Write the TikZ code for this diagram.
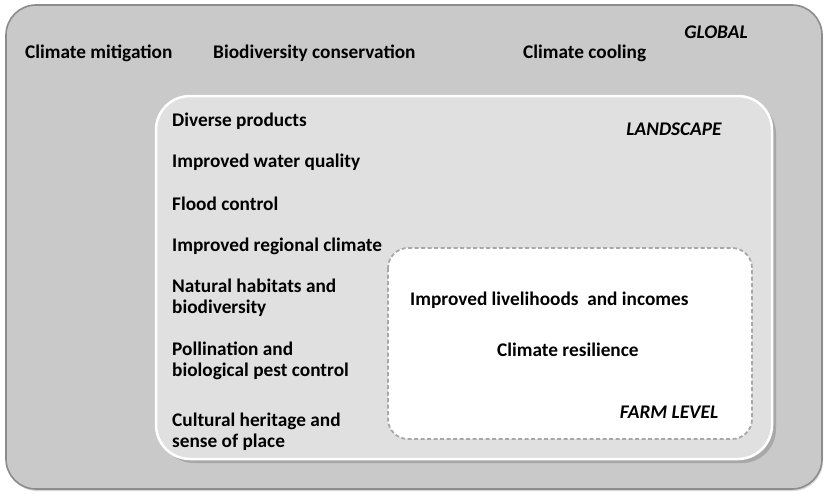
\documentclass[tikz,border=0pt]{standalone}
\usepackage{fontspec}
\setmainfont{Carlito}
\usetikzlibrary{shadows,positioning}
\definecolor{outerfill}{HTML}{C9C9C9}
\definecolor{outerline}{HTML}{8C8C8C}
\definecolor{landfill}{HTML}{E0E0E0}
\definecolor{farmline}{HTML}{A8A8A8}
\tikzset{
  lbl/.style={anchor=west, font=\fontsize{19.3}{21}\selectfont\bfseries, inner sep=0pt, align=left},
  ttl/.style={anchor=center, font=\fontsize{19.3}{21}\selectfont\bfseries\itshape, inner sep=0pt},
  two/.style={lbl}
}
\begin{document}
\begin{tikzpicture}[x=1pt,y=-1pt]
\useasboundingbox (0,0) rectangle (829,495);
\fill[white] (0,0) rectangle (829,495);
% outer box
\draw[outerline, line width=1.6pt, fill=outerfill, rounded corners=30pt, drop shadow={shadow xshift=1pt, shadow yshift=-2pt, opacity=0.3}]
  (6,5) rectangle (822,489);
% landscape box
\draw[white, line width=2.5pt, fill=landfill, rounded corners=34pt, drop shadow={shadow xshift=4pt, shadow yshift=-4pt, opacity=0.45}]
  (156,96) rectangle (772,459);
% farm box
\draw[farmline, line width=1.8pt, dash pattern=on 4pt off 2.5pt, fill=white, rounded corners=20pt]
  (388,248) rectangle (752,439);

% global texts
\node[lbl] (cm) at (25,53) {Climate mitigation};
\node[lbl] (bc) at (213,53) {Biodiversity conservation};
\node[lbl] (cc) at (523,53) {Climate cooling};
\node[ttl] (gl) at (716,32) {GLOBAL};
% landscape texts
\node[lbl] (dp) at (172,121) {Diverse products};
\node[lbl] (wq) at (172,162) {Improved water quality};
\node[lbl] (fc) at (172,204) {Flood control};
\node[lbl] (rc) at (172,246) {Improved regional climate};
\node[two] (nh) at (172,298) {Natural habitats and\\biodiversity};
\node[two] (pp) at (172,361) {Pollination and\\biological pest control};
\node[two] (ch) at (172,432) {Cultural heritage and\\sense of place};
\node[ttl] (ls) at (674,129) {LANDSCAPE};
% farm texts
\node[lbl] (li) at (410,300) {Improved livelihoods\ \ and incomes};
\node[lbl] (cr) at (497,350) {Climate resilience};
\node[ttl] (fl) at (669,412) {FARM LEVEL};
\end{tikzpicture}
\end{document}
